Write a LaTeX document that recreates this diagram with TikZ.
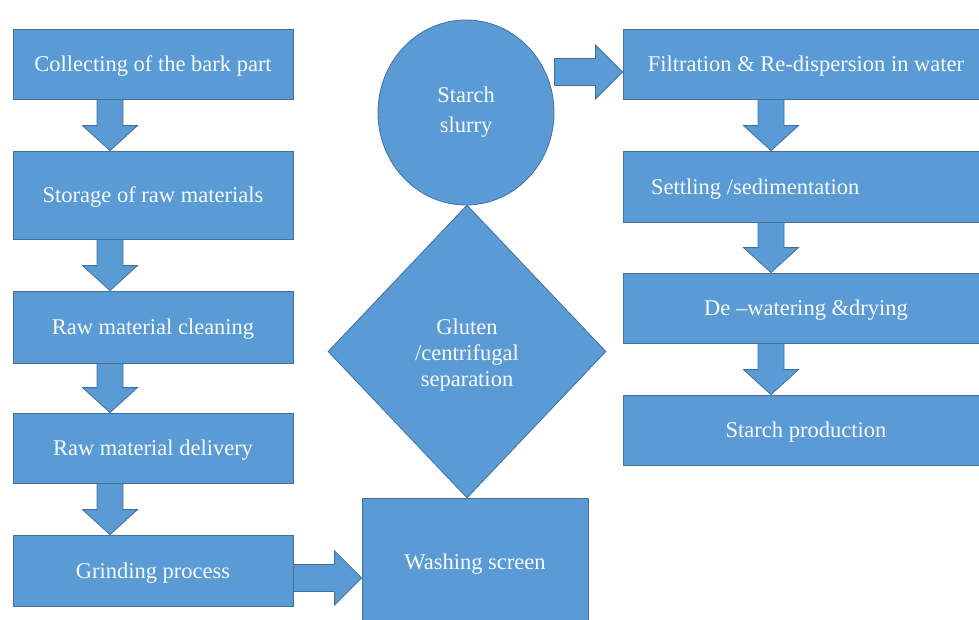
\documentclass[tikz,border=0pt]{standalone}
\usepackage{fontspec}
\setmainfont{Liberation Serif}
\usetikzlibrary{shapes.geometric,calc}
\definecolor{boxfill}{HTML}{5B9BD5}
\definecolor{boxline}{HTML}{41719C}
\tikzset{
  txt/.style={text=white!96!boxfill, font=\fontsize{22.5}{26}\selectfont},
  blk/.style={draw=boxline, fill=boxfill, line width=0.8pt, txt, inner sep=0pt},
  boxn/.style={blk, rectangle, minimum width=280pt, text depth=0pt},
  rboxn/.style={blk, rectangle, minimum width=366pt, text depth=0pt},
  barrow/.style={draw=boxline, fill=boxfill, line width=0.8pt, line join=miter}
}
% down block arrow: from node #1 (south) to node #2 (north), at x = #3
\newcommand\myDownArrow[3]{%
  \path let \p1=(#1.south), \p2=(#2.north), \p3=(#3,0) in
   [barrow] (\x3-13pt,\y1) -- (\x3+13pt,\y1) -- (\x3+13pt,\y2+25pt) -- (\x3+27.5pt,\y2+25pt)
   -- (\x3,\y2) -- (\x3-27.5pt,\y2+25pt) -- (\x3-13pt,\y2+25pt) -- cycle;}
% right block arrow: from x of #1 (east) to x of #2 (west), at y = #3
\newcommand\myRightArrow[3]{%
  \path let \p1=(#1.east), \p2=(#2.west), \p3=(0,#3) in
   [barrow] (\x1,\y3+13.5pt) -- (\x2-27pt,\y3+13.5pt) -- (\x2-27pt,\y3+27pt)
   -- (\x2,\y3) -- (\x2-27pt,\y3-27pt) -- (\x2-27pt,\y3-13.5pt) -- (\x1,\y3-13.5pt) -- cycle;}
\begin{document}
\begin{tikzpicture}[x=1pt,y=-1pt]
\useasboundingbox (0,0) rectangle (979,619);
% left column
\node[boxn, minimum height=70pt] (b1) at (153,64) {Collecting of the bark part};
\node[boxn, minimum height=88pt] (b2) at (153,195) {Storage of raw materials};
\node[boxn, minimum height=72pt] (b3) at (153,327) {Raw material cleaning};
\node[boxn, minimum height=70pt] (b4) at (153,448) {Raw material delivery};
\node[boxn, minimum height=71pt] (b5) at (153,570.5) {Grinding process};
% middle column
\node[blk, rectangle, minimum width=226pt, minimum height=130pt] (ws) at (475,563) {};
\node[txt] (wst) at (475,564) {Washing screen};
\node[blk, diamond, minimum width=278pt, minimum height=293pt, align=center] (gl) at (467,351.5)
  {\\[-3pt]Gluten\\/centrifugal\\separation};
\node[blk, ellipse, minimum width=176pt, minimum height=185pt, align=center] (ss) at (466,112.5)
  {Starch\\[4pt]slurry};
% right column
\node[rboxn, minimum height=70pt] (r1) at (806,64) {Filtration \& Re-dispersion in water};
\node[rboxn, minimum height=71pt] (r2) at (806,186.5) {};
\node[anchor=west, txt, inner sep=0pt] (r2t) at (651,189) {Settling /sedimentation};
\node[rboxn, minimum height=70pt] (r3) at (806,308) {De –watering \&drying};
\node[rboxn, minimum height=70pt] (r4) at (806,430) {Starch production};
% arrows
\myDownArrow{b1}{b2}{110}
\myDownArrow{b2}{b3}{110}
\myDownArrow{b3}{b4}{110}
\myDownArrow{b4}{b5}{110}
\myRightArrow{b5}{ws}{578}
\myRightArrow{ss}{r1}{72}
\myDownArrow{r1}{r2}{771}
\myDownArrow{r2}{r3}{771}
\myDownArrow{r3}{r4}{771}
\end{tikzpicture}
\end{document}
